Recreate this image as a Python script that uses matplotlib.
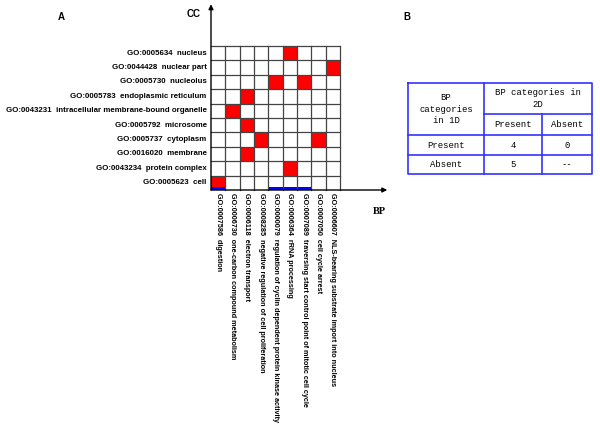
import matplotlib
matplotlib.use("Agg")
import matplotlib.pyplot as plt
from matplotlib.patches import Rectangle

plt.rcParams['font.family'] = ['Liberation Sans', 'DejaVu Sans']

# <====== data ======>
cc_terms = ["GO:0005634  nucleus",
            "GO:0044428  nuclear part",
            "GO:0005730  nucleolus",
            "GO:0005783  endoplasmic reticulum",
            "GO:0043231  intracellular membrane-bound organelle",
            "GO:0005792  microsome",
            "GO:0005737  cytoplasm",
            "GO:0016020  membrane",
            "GO:0043234  protein complex",
            "GO:0005623  cell"]
bp_terms = ["GO:0007586  digestion",
            "GO:0006730  one-carbon compound metabolism",
            "GO:0006118  electron transport",
            "GO:0008285  negative regulation of cell proliferation",
            "GO:0000079  regulation of cyclin dependent protein kinase activity",
            "GO:0006364  rRNA processing",
            "GO:0007089  traversing start control point of mitotic cell cycle",
            "GO:0007050  cell cycle arrest",
            "GO:0006607  NLS-bearing substrate import into nucleus"]
# (cc row, bp column) pairs that are enriched together
hit_rows = [0, 1, 2, 2, 3, 4, 5, 6, 6, 7, 8, 9]
hit_cols = [5, 8, 4, 6, 2, 1, 2, 3, 7, 2, 5, 0]
# BP categories also found in 1D
blue_cols = [0, 4, 5, 6]

# table B
tab_corner = "BP\ncategories\nin 1D"
tab_top = "BP categories in\n2D"
tab_cols = ["Present", "Absent"]
tab_rows = ["Present", "Absent"]
tab_vals = [["4", "0"], ["5", "--"]]

W, H = 600, 445
fig = plt.figure(figsize=(6, 4.45), dpi=100)

# <====== panel A grid ======>
nr, nc = len(cc_terms), len(bp_terms)
ax = fig.add_axes([211 / W, 1 - 190 / H, 129 / W, 144 / H])
ax.set_xlim(0, nc)
ax.set_ylim(0, nr)
ax.axis('off')

for r, c in zip(hit_rows, hit_cols):
    ax.add_patch(Rectangle((c, nr - 1 - r), 1, 1, color='#ff0000', lw=0, zorder=1))
for c in blue_cols:
    ax.add_patch(Rectangle((c, 0), 1, 0.22, color='#0000ff', lw=0, zorder=2))

for i in range(1, nc + 1):
    ax.plot([i, i], [0, nr], color='#444444', lw=0.9, zorder=3, clip_on=False)
for j in range(1, nr + 1):
    ax.plot([0, nc], [j, j], color='#444444', lw=0.9, zorder=3, clip_on=False)

ax.annotate('', xy=(0, 12.9), xytext=(0, 0), annotation_clip=False,
            arrowprops=dict(arrowstyle='-|>', color='black', lw=1, mutation_scale=7, shrinkA=0, shrinkB=0))
ax.annotate('', xy=(12.3, 0), xytext=(0, 0), annotation_clip=False,
            arrowprops=dict(arrowstyle='-|>', color='black', lw=1, mutation_scale=7, shrinkA=0, shrinkB=0))

for i, t in enumerate(cc_terms):
    ax.text(-0.3, nr - 0.5 - i, t, ha='right', va='center', fontsize=5.7, fontweight='bold')
for j, t in enumerate(bp_terms):
    ax.text(j + 0.5, -0.2, t, ha='center', va='top', rotation=-90, fontsize=5.25, fontweight='bold')

fig.text(58 / W, 1 - 17 / H, "A", fontsize=7, fontweight='bold', va='center')
fig.text(187 / W, 1 - 14 / H, "CC", fontsize=7, fontweight='bold', va='center')
fig.text(373 / W, 1 - 211 / H, "BP", fontsize=7.5, fontweight='bold', va='center',
         family='Liberation Serif')
fig.text(403 / W, 1 - 17 / H, "B", fontsize=7, fontweight='bold', va='center')

# <====== panel B table ======>
tax = fig.add_axes([0, 0, 1, 1], zorder=-1)
tax.set_xlim(0, W)
tax.set_ylim(H, 0)
tax.axis('off')
x0, x1, x2, x3 = 408, 484, 542, 592
y0, y1, y2, y3, y4 = 83, 114, 135, 155, 174
blue = '#3333ff'
lw = 1.2
tax.plot([x0, x3, x3, x0, x0], [y0, y0, y4, y4, y0], color=blue, lw=lw)
tax.plot([x1, x1], [y0, y4], color=blue, lw=lw)
tax.plot([x2, x2], [y1, y4], color=blue, lw=lw)
tax.plot([x1, x3], [y1, y1], color=blue, lw=lw)
for y in (y2, y3):
    tax.plot([x0, x3], [y, y], color=blue, lw=lw)

tf = dict(family='Liberation Mono', fontsize=6.4, ha='center', va='center')
tax.text((x0 + x1) / 2, (y0 + y2) / 2, tab_corner, linespacing=1.4, **tf)
tax.text((x1 + x3) / 2, (y0 + y1) / 2, tab_top, linespacing=1.4, **tf)
col_x = [(x1 + x2) / 2, (x2 + x3) / 2]
row_y = [(y2 + y3) / 2, (y3 + y4) / 2]
for k, t in enumerate(tab_cols):
    tax.text(col_x[k], (y1 + y2) / 2, t, **tf)
for i, t in enumerate(tab_rows):
    tax.text((x0 + x1) / 2, row_y[i], t, **tf)
    for k, v in enumerate(tab_vals[i]):
        tax.text(col_x[k], row_y[i], v, **tf)

fig.savefig("out.png", dpi=100)
